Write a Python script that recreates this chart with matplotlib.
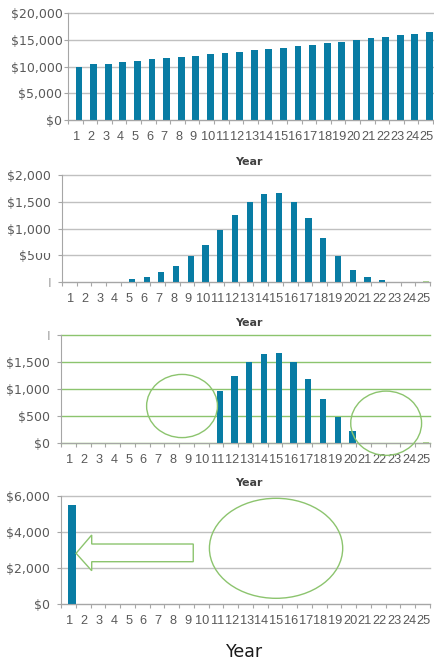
import numpy as np
import matplotlib
matplotlib.use('Agg')
import matplotlib.pyplot as plt
from matplotlib.patches import Ellipse, Polygon, Rectangle

plt.rcParams['font.family'] = ['DejaVu Sans']

# data
years = list(range(1, 26))
year_labels = [str(y) for y in years]

income = [10000, 10380, 10560, 10750, 10940, 11310, 11500, 11690, 11880, 12250,
          12440, 12630, 13000, 13190, 13380, 13750, 13940, 14310, 14500, 14880,
          15250, 15440, 15810, 16000, 16380]

spread = [0, 0, 0, 0, 50, 85, 180, 300, 480, 700,
          965, 1250, 1500, 1640, 1665, 1500, 1190, 820, 485, 230,
          85, 35, 0, 0, 25]

cut = [0, 0, 0, 0, 0, 0, 0, 0, 0, 0,
       965, 1250, 1500, 1640, 1665, 1500, 1190, 820, 485, 230,
       0, 0, 0, 0, 20]

lump = [5500] + [0] * 24

ticks1 = [0, 5000, 10000, 15000, 20000]
labels1 = ['$0', '$5,000', '$10,000', '$15,000', '$20,000']
ticks2 = [0, 500, 1000, 1500, 2000]
labels2 = ['I', '$500', '$1,000', '$1,500', '$2,000']
labels3 = ['$0', '$500', '$1,000', '$1,500', 'I']
ticks4 = [0, 2000, 4000, 6000]
labels4 = ['$0', '$2,000', '$4,000', '$6,000']

blue = '#087ca4'
pale_green = '#a9d18e'
green = '#8cc46e'
grid_gray = '#c0c0c0'
txt_gray = '#595959'

W, H = 435, 662
fig = plt.figure(figsize=(W / 100, H / 100), dpi=100)


def px_axes(left, top, right, bottom):
    return fig.add_axes([left / W, 1 - bottom / H, (right - left) / W, (bottom - top) / H])


def style(ax, yticks, ylabels, ymax, gcol, ypad):
    ax.set_xlim(0.25, 25.25)
    ax.set_ylim(0, ymax)
    ax.set_yticks(yticks)
    ax.set_yticklabels(ylabels)
    # labels sit a little left of the bars in the original
    ax.set_xticks(np.array(years) - 0.17)
    ax.set_xticklabels(year_labels, family=['Liberation Sans', 'DejaVu Sans'])
    ax.set_xticks(np.arange(0.25, 25.3, 1), minor=True)
    ax.tick_params(axis='x', which='major', length=0, pad=8, labelsize=9.2, labelcolor=txt_gray)
    ax.tick_params(axis='x', which='minor', length=3, width=0.8, color='#a6a6a6')
    ax.tick_params(axis='y', length=3, width=0.8, color='#a6a6a6', pad=ypad,
                   labelsize=9, labelcolor=txt_gray)
    for s in ['top', 'right']:
        ax.spines[s].set_visible(False)
    for s in ['left', 'bottom']:
        ax.spines[s].set_color('#a6a6a6')
        ax.spines[s].set_linewidth(0.8)
    ax.set_axisbelow(True)
    ax.yaxis.grid(True, color=gcol, linewidth=1)
    for ln in ax.get_ygridlines():
        ln.set_clip_on(False)


# panel 1 - steady income
ax1 = px_axes(68, 13, 433, 120)
ax1.bar(years, income, width=0.46, color=blue)
style(ax1, ticks1, labels1, 20000, grid_gray, 1)

# panel 2 - bell shaped
ax2 = px_axes(62, 175, 430, 282)
cols2 = [blue] * 24 + [pale_green]
ax2.bar(years, spread, width=0.42, color=cols2)
style(ax2, ticks2, labels2, 2000, grid_gray, 5)
ax2.get_yticklabels()[0].set_color('#a0a0a0')
# top part of the $500 label is hidden
fig.add_artist(Rectangle((30 / W, 1 - 252.5 / H), 28 / W, 8 / H,
                         transform=fig.transFigure, facecolor='white',
                         edgecolor='none', zorder=10))

# panel 3 - truncated
ax3 = px_axes(61, 335, 430, 443)
cols3 = [blue] * 24 + [pale_green]
ax3.bar(years, cut, width=0.42, color=cols3)
style(ax3, ticks2, labels3, 2000, green, 5)
ax3.get_yticklabels()[-1].set_color('#a0a0a0')
ax3.add_patch(Ellipse((8.45, 685), 4.8, 1170, facecolor='none', edgecolor=green,
                      linewidth=1, clip_on=False, zorder=5))
ax3.add_patch(Ellipse((22.28, 366), 4.8, 1190, facecolor='none', edgecolor=green,
                      linewidth=1, clip_on=False, zorder=5))

# panel 4 - all in year one
ax4 = px_axes(61, 496, 430, 604)
ax4.bar(years, lump, width=0.52, color=blue)
style(ax4, ticks4, labels4, 6000, grid_gray, 5)
arrow = [(1.27, 2817), (2.33, 3833), (2.33, 3333), (9.21, 3333),
         (9.21, 2350), (2.33, 2350), (2.33, 1850)]
ax4.add_patch(Polygon(arrow, closed=True, facecolor='white', edgecolor=green,
                      linewidth=1, zorder=5))
ax4.add_patch(Ellipse((14.82, 3094), 9.03, 5556, facecolor='none', edgecolor=green,
                      linewidth=1, clip_on=False, zorder=5))

# axis titles
for yc in [162, 323, 483]:
    fig.text(249 / W, 1 - yc / H, 'Year', ha='center', va='center',
             fontsize=8, fontweight='bold', color='#404040')
fig.text(245 / W, 1 - 652 / H, 'Year', ha='center', va='center',
         fontsize=12.5, color='#1a1a1a')

fig.savefig('out.png', dpi=100, facecolor='white')
